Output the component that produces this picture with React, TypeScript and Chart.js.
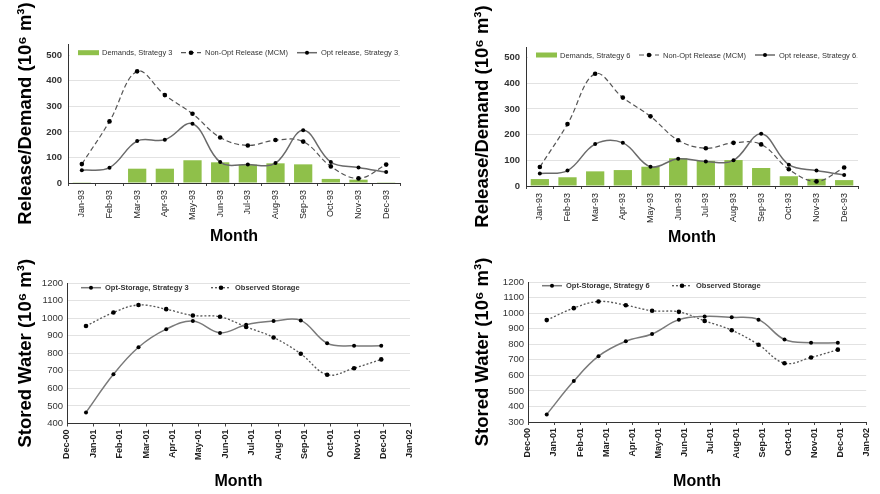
import React, { useEffect, useRef } from "react";
import { Chart, registerables } from "chart.js";

Chart.register(...registerables);

// ---------- data ----------
const months93 = ["Jan-93", "Feb-93", "Mar-93", "Apr-93", "May-93", "Jun-93", "Jul-93", "Aug-93", "Sep-93", "Oct-93", "Nov-93", "Dec-93"];
const demands3 = [1, 2, 56, 56, 89, 81, 72, 77, 73, 16, 13, 3];
const demands6 = [27, 34, 57, 62, 75, 108, 98, 101, 70, 38, 28, 23];
const nonOptRelease = [74, 241, 437, 344, 271, 178, 147, 168, 162, 65, 18, 72];
const optRelease3 = [50, 60, 164, 169, 232, 82, 72, 78, 206, 82, 61, 43];
const optRelease6 = [49, 60, 163, 168, 75, 106, 95, 100, 203, 83, 60, 43];

const storageTickLabels = ["Dec-00", "Jan-01", "Feb-01", "Mar-01", "Apr-01", "May-01", "Jun-01", "Jul-01", "Aug-01", "Sep-01", "Oct-01", "Nov-01", "Dec-01", "Jan-02"];
// months elapsed since 1 Dec 2000 for each storage observation
const storageDates = [0.72, 1.76, 2.71, 3.76, 4.77, 5.8, 6.79, 7.83, 8.86, 9.86, 10.88, 11.91];
const optStorage3 = [463, 680, 834, 937, 983, 916, 962, 983, 987, 857, 842, 842];
const optStorage6 = [349, 563, 723, 819, 866, 958, 979, 973, 958, 830, 809, 809];
const observedStorage = [955, 1032, 1075, 1051, 1015, 1008, 950, 890, 797, 678, 715, 765];

const FONT = '"Liberation Sans", Arial, sans-serif';

// ---------- legend drawn inside the plot area ----------
const insideLegend = {
  id: "insideLegend",
  afterDraw(chart: any, _args: any, opts: any) {
    if (!opts || !opts.offsets) return;
    const { ctx, chartArea } = chart;
    const y = chartArea.top + opts.dy;
    ctx.save();
    if (opts.background) {
      ctx.fillStyle = "#ffffff";
      ctx.fillRect(chartArea.left + 2, y - 5, chartArea.right - chartArea.left - 4, 10);
    }
    ctx.font = opts.font;
    ctx.textBaseline = "middle";
    ctx.textAlign = "left";
    chart.data.datasets.forEach((ds: any, i: number) => {
      const x = chartArea.left + opts.offsets[i];
      const type = ds.type || chart.config.type;
      if (type === "bar") {
        ctx.fillStyle = ds.backgroundColor;
        ctx.fillRect(x, y - 2.5, 21, 5);
      } else {
        ctx.strokeStyle = ds.borderColor;
        ctx.lineWidth = ds.borderWidth;
        ctx.setLineDash(ds.borderDash || []);
        ctx.beginPath();
        ctx.moveTo(x, y);
        ctx.lineTo(x + 20, y);
        ctx.stroke();
        ctx.setLineDash([]);
        ctx.fillStyle = ds.pointBackgroundColor;
        ctx.beginPath();
        ctx.arc(x + 10, y, ds.pointRadius, 0, Math.PI * 2);
        ctx.fill();
      }
      ctx.fillStyle = "#333";
      ctx.fillText(ds.label, x + 24, y + 0.5);
    });
    ctx.restore();
  },
};

// ---------- config builders ----------
function releaseConfig(demands: number[], opt: number[], strategy: number, L: any) {
  return {
    type: "bar",
    data: {
      labels: months93,
      datasets: [
        {
          type: "bar",
          label: `Demands, Strategy ${strategy}`,
          data: demands,
          backgroundColor: "#8fc04a",
          barPercentage: 0.66,
          categoryPercentage: 1,
          order: 3,
        },
        {
          type: "line",
          label: "Non-Opt Release (MCM)",
          data: nonOptRelease,
          borderColor: "#555",
          borderWidth: 1.2,
          borderDash: [5, 3],
          pointRadius: 2.3,
          pointBackgroundColor: "#000",
          pointBorderWidth: 0,
          tension: 0.38,
          fill: false,
          order: 2,
        },
        {
          type: "line",
          label: `Opt release, Strategy ${strategy}`,
          data: opt,
          borderColor: "#6a6a6a",
          borderWidth: 1.5,
          pointRadius: 2,
          pointBackgroundColor: "#000",
          pointBorderWidth: 0,
          tension: 0.38,
          fill: false,
          order: 1,
        },
      ],
    },
    options: {
      animation: false,
      responsive: false,
      devicePixelRatio: 1,
      layout: { padding: { top: L.top, right: L.right, left: 0, bottom: 0 } },
      plugins: {
        legend: { display: false },
        tooltip: { enabled: false },
        insideLegend: { offsets: [10, 113, 229], dy: L.legendDy, background: true, font: `7.5px ${FONT}` },
      },
      scales: {
        x: {
          grid: { drawOnChartArea: false, drawTicks: true, tickLength: 3, color: "#444" },
          border: { display: true, color: "#333" },
          ticks: { font: { family: FONT, size: 9 }, color: "#222", maxRotation: 90, minRotation: 90, autoSkip: false, padding: 4 },
          title: { display: true, text: "Month", font: { family: FONT, size: 16, weight: "bold" }, color: "#000", padding: { top: 0, bottom: L.xTitlePad } },
          afterFit: (s: any) => { s.height = L.xHeight; },
        },
        y: {
          min: 0,
          max: L.ymax,
          grid: { color: "#e2e2e2", drawTicks: false },
          border: { display: true, color: "#333" },
          ticks: { stepSize: 100, includeBounds: false, font: { family: FONT, size: 9.5, weight: "bold" }, color: "#333", padding: 6, callback: (v: any) => String(v) },
          title: { display: true, text: "Release/Demand (10⁶ m³)", font: { family: FONT, size: 18.5, weight: "bold" }, color: "#000", padding: { top: L.yTitlePad, bottom: 0 } },
          afterFit: (s: any) => { s.width = L.yWidth; },
        },
      },
    },
    plugins: [insideLegend],
  };
}

function storageConfig(opt: number[], strategy: number, L: any) {
  return {
    type: "line",
    data: {
      datasets: [
        {
          label: `Opt-Storage, Strategy ${strategy}`,
          data: storageDates.map((x, i) => ({ x, y: opt[i] })),
          borderColor: "#7a7a7a",
          borderWidth: 1.5,
          pointRadius: 2,
          pointBackgroundColor: "#000",
          pointBorderWidth: 0,
          tension: 0.38,
          fill: false,
        },
        {
          label: "Observed Storage",
          data: storageDates.map((x, i) => ({ x, y: observedStorage[i] })),
          borderColor: "#555",
          borderWidth: 1.3,
          borderDash: [2, 2],
          pointRadius: 2.3,
          pointBackgroundColor: "#000",
          pointBorderWidth: 0,
          tension: 0.38,
          fill: false,
        },
      ],
    },
    options: {
      animation: false,
      responsive: false,
      devicePixelRatio: 1,
      layout: { padding: { top: L.top, right: L.right, left: 0, bottom: 0 } },
      plugins: {
        legend: { display: false },
        tooltip: { enabled: false },
        insideLegend: { offsets: [14, 144], dy: L.legendDy, background: false, font: `bold 7.5px ${FONT}` },
      },
      scales: {
        x: {
          type: "linear",
          min: 0,
          max: 13,
          grid: { drawOnChartArea: false, drawTicks: true, tickLength: 3, color: "#444" },
          border: { display: true, color: "#333" },
          ticks: {
            stepSize: 1,
            autoSkip: false,
            maxRotation: 90,
            minRotation: 90,
            padding: 3,
            font: { family: FONT, size: 9, weight: "bold" },
            color: "#222",
            callback: (v: any) => storageTickLabels[v] ?? "",
          },
          title: { display: true, text: "Month", font: { family: FONT, size: 16, weight: "bold" }, color: "#000", padding: { top: 0, bottom: L.xTitlePad } },
          afterFit: (s: any) => { s.height = L.xHeight; },
        },
        y: {
          min: L.ymin,
          max: 1200,
          grid: { color: "#e2e2e2", drawTicks: false },
          border: { display: true, color: "#333" },
          ticks: { stepSize: 100, font: { family: FONT, size: 9.5 }, color: "#333", padding: 4, callback: (v: any) => String(v) },
          title: { display: true, text: "Stored Water (10⁶ m³)", font: { family: FONT, size: 18.5, weight: "bold" }, color: "#000", padding: { top: L.yTitlePad, bottom: 0 } },
          afterFit: (s: any) => { s.width = L.yWidth; },
        },
      },
    },
    plugins: [insideLegend],
  };
}

// ---------- components ----------
function ChartBox({ left, top, width, height, config }: any) {
  const ref = useRef<HTMLCanvasElement | null>(null);
  useEffect(() => {
    if (!ref.current) return;
    const chart = new Chart(ref.current, config);
    return () => chart.destroy();
  }, [config]);
  return (
    <canvas
      ref={ref}
      width={width}
      height={height}
      style={{ position: "absolute", left, top, width, height }}
    />
  );
}

const cfgTL = releaseConfig(demands3, optRelease3, 3, { top: 44, right: 40, xHeight: 67, xTitlePad: 3.7, ymax: 544, yWidth: 68, yTitlePad: 15, legendDy: 8.7 });
const cfgTR = releaseConfig(demands6, optRelease6, 6, { top: 47, right: 22, xHeight: 64, xTitlePad: 2.4, ymax: 541, yWidth: 86, yTitlePad: 32, legendDy: 8 });
const cfgBL = storageConfig(optStorage3, 3, { top: 33, right: 30, xHeight: 70.5, xTitlePad: 2.9, ymin: 400, yWidth: 67, yTitlePad: 15, legendDy: 4.7 });
const cfgBR = storageConfig(optStorage6, 6, { top: 32, right: 10, xHeight: 72, xTitlePad: 2.7, ymin: 300, yWidth: 88, yTitlePad: 32, legendDy: 3.7 });

export default function App() {
  return (
    <div style={{ position: "fixed", left: 0, top: 0, width: 880, height: 494, background: "#fff", overflow: "hidden" }}>
      <ChartBox left={0} top={0} width={440} height={250} config={cfgTL} />
      <ChartBox left={440} top={0} width={440} height={250} config={cfgTR} />
      <ChartBox left={0} top={250} width={440} height={244} config={cfgBL} />
      <ChartBox left={440} top={250} width={440} height={244} config={cfgBR} />
    </div>
  );
}
